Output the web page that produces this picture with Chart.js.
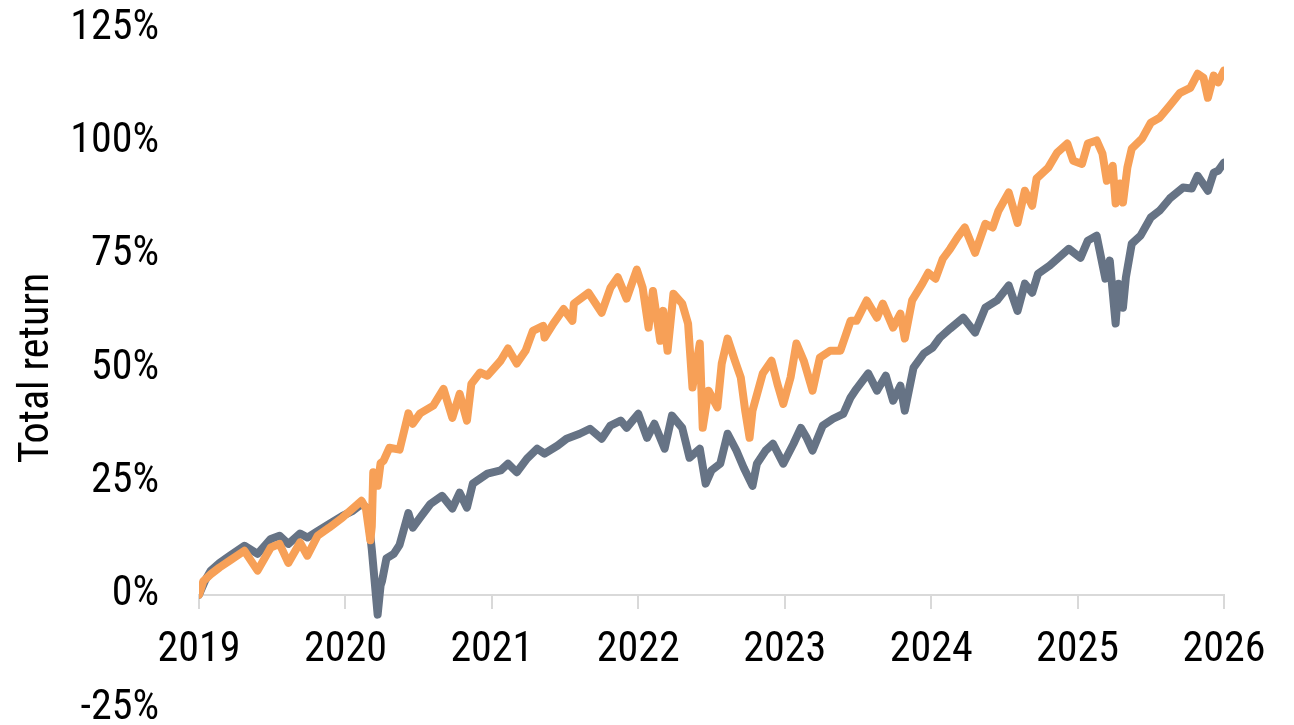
<!DOCTYPE html>
<html>
<head>
<meta charset="utf-8">
<script src="https://cdn.jsdelivr.net/npm/chart.js@4.4.1/dist/chart.umd.min.js"></script>
<style>
  html, body { margin: 0; padding: 0; background: #fff; }
  #wrap { width: 1294px; height: 725px; }
</style>
</head>
<body>
<div id="wrap"><canvas id="returnChart" width="1294" height="725"></canvas></div>
<script>
// tick labels
const yearLabels = ['2019', '2020', '2021', '2022', '2023', '2024', '2025', '2026'];
const pctLabels = ['-25%', '0%', '25%', '50%', '75%', '100%', '125%'];

// orange series (decimal year, total return in %)
const orangeYears = [2019.00, 2019.03, 2019.08, 2019.14, 2019.21, 2019.31, 2019.40, 2019.49, 2019.55, 2019.61,
  2019.69, 2019.74, 2019.81, 2019.89, 2019.98, 2020.05, 2020.11, 2020.14, 2020.17, 2020.18, 2020.19, 2020.20,
  2020.22, 2020.24, 2020.26, 2020.30, 2020.37, 2020.43, 2020.46, 2020.51, 2020.60, 2020.67, 2020.73, 2020.78,
  2020.83, 2020.86, 2020.92, 2020.97, 2021.06, 2021.11, 2021.17, 2021.23, 2021.28, 2021.35, 2021.36, 2021.42,
  2021.49, 2021.55, 2021.56, 2021.66, 2021.75, 2021.81, 2021.86, 2021.92, 2021.99, 2022.03, 2022.07, 2022.10,
  2022.15, 2022.17, 2022.20, 2022.24, 2022.30, 2022.34, 2022.37, 2022.42, 2022.44, 2022.48, 2022.54, 2022.57,
  2022.61, 2022.66, 2022.70, 2022.73, 2022.76, 2022.78, 2022.85, 2022.91, 2022.95, 2022.99, 2023.04, 2023.08,
  2023.13, 2023.19, 2023.24, 2023.31, 2023.38, 2023.45, 2023.49, 2023.56, 2023.63, 2023.67, 2023.74, 2023.79,
  2023.82, 2023.87, 2023.94, 2023.98, 2024.03, 2024.08, 2024.13, 2024.18, 2024.23, 2024.30, 2024.37, 2024.42,
  2024.46, 2024.53, 2024.59, 2024.64, 2024.69, 2024.72, 2024.80, 2024.86, 2024.93, 2024.97, 2025.03, 2025.07,
  2025.13, 2025.17, 2025.20, 2025.24, 2025.26, 2025.29, 2025.31, 2025.34, 2025.37, 2025.44, 2025.50, 2025.56,
  2025.63, 2025.70, 2025.77, 2025.82, 2025.86, 2025.89, 2025.93, 2025.96, 2026.00];
const orangeValues = [0, 3, 4.5, 6, 7.5, 9.7, 5.3, 10.4, 11.2, 7,
  11.5, 8.6, 13, 14.8, 17, 19, 20.7, 19, 12, 15, 27, 24,
  24, 29, 29.5, 32.4, 32, 40, 37.7, 40, 41.7, 45.4, 39, 44.3,
  38.4, 46.5, 49, 48.3, 51.6, 54.3, 51, 53.8, 58.2, 59.3, 56.7, 59.8,
  63, 60.4, 64.2, 66.6, 62.2, 67.7, 70, 65.3, 71.7, 67.7, 58.9, 67,
  56, 62.6, 53.8, 66.4, 64.2, 59.8, 45.7, 55.4, 36.8, 45, 41.3, 51,
  56.5, 51.6, 47.9, 40.6, 34.6, 40.6, 48.8, 51.6, 46.5, 42.1, 47.9, 55.4,
  51.6, 45, 52.3, 53.8, 53.8, 60.4, 60.4, 64.9, 61.1, 64.2, 58.9, 62,
  56.5, 64.9, 68.6, 71, 69.7, 74.1, 76.3, 78.8, 81, 75.4, 81.8, 81,
  84.7, 88.7, 82, 89.1, 85.8, 91.8, 94.2, 97.5, 99.5, 95.7, 95, 99.5,
  100.2, 97.3, 91.3, 94.6, 86.3, 90.7, 86.5, 94.2, 98.4, 100.6, 104.1, 105.2,
  107.9, 110.7, 111.8, 114.9, 114, 109.6, 114.5, 113, 115.6];

// gray series
const grayYears = [2019.00, 2019.04, 2019.08, 2019.14, 2019.21, 2019.31, 2019.40, 2019.49, 2019.55, 2019.61,
  2019.69, 2019.74, 2019.81, 2019.89, 2019.98, 2020.05, 2020.11, 2020.15, 2020.18, 2020.22, 2020.24, 2020.25,
  2020.28, 2020.33, 2020.37, 2020.43, 2020.46, 2020.51, 2020.58, 2020.66, 2020.73, 2020.78, 2020.83, 2020.87,
  2020.97, 2021.06, 2021.11, 2021.17, 2021.24, 2021.31, 2021.36, 2021.45, 2021.51, 2021.60, 2021.67, 2021.75,
  2021.81, 2021.88, 2021.92, 2022.00, 2022.06, 2022.11, 2022.18, 2022.23, 2022.30, 2022.35, 2022.42, 2022.46,
  2022.50, 2022.56, 2022.61, 2022.67, 2022.72, 2022.78, 2022.81, 2022.87, 2022.92, 2022.99, 2023.06, 2023.11,
  2023.15, 2023.19, 2023.26, 2023.33, 2023.40, 2023.45, 2023.49, 2023.57, 2023.63, 2023.69, 2023.74, 2023.79,
  2023.82, 2023.88, 2023.95, 2024.01, 2024.06, 2024.13, 2024.22, 2024.30, 2024.37, 2024.45, 2024.53, 2024.59,
  2024.64, 2024.69, 2024.73, 2024.81, 2024.87, 2024.94, 2025.02, 2025.07, 2025.13, 2025.19, 2025.22, 2025.26,
  2025.28, 2025.31, 2025.33, 2025.37, 2025.43, 2025.50, 2025.56, 2025.63, 2025.72, 2025.78, 2025.82, 2025.89,
  2025.93, 2025.96, 2026.00];
const grayValues = [0, 3, 5.3, 7, 8.6, 10.8, 9, 12.3, 13, 11.2,
  13.5, 12.6, 14, 15.6, 17.4, 18.5, 20, 19, 10, -4.4, 2, 3,
  8, 9, 11, 18, 14.8, 17, 20, 21.8, 19, 22.5, 19.2, 24.5,
  26.7, 27.4, 28.9, 27, 30, 32.2, 31.1, 32.9, 34.4, 35.5, 36.6, 34.4,
  37.3, 38.4, 36.8, 39.9, 34.6, 37.7, 32.2, 39.5, 36.8, 30.2, 32.2, 24.5,
  27.4, 28.9, 35.5, 31.8, 28, 24, 28.9, 31.8, 33.3, 28.9, 33.3, 36.8,
  34.6, 31.8, 37.3, 38.8, 39.9, 43.5, 45.4, 48.8, 45, 48.3, 42.8, 46.1,
  40.6, 50.1, 53.2, 54.5, 56.7, 58.7, 61.1, 57.8, 63.3, 64.9, 68.2, 62.6,
  68.6, 66.6, 70.8, 72.6, 74.3, 76.3, 74.3, 78.1, 79.2, 69.7, 73.7, 59.8,
  68.6, 63.3, 70, 77.4, 79.2, 83.2, 84.7, 87.4, 89.8, 89.6, 92.4, 89.1,
  93.1, 93.5, 95.3];

const FONT = "'Roboto Condensed', 'Liberation Sans Narrow', 'Arial Narrow', Roboto, sans-serif";
const toPoints = (xs, ys) => xs.map((x, i) => ({ x: x, y: ys[i] }));

new Chart(document.getElementById('returnChart').getContext('2d'), {
  type: 'line',
  data: {
    datasets: [
      {
        label: 'Orange',
        data: toPoints(orangeYears, orangeValues),
        borderColor: '#F7A057',
        borderWidth: 8,
        pointRadius: 0,
        tension: 0,
        borderJoinStyle: 'round',
        borderCapStyle: 'round'
      },
      {
        label: 'Gray',
        data: toPoints(grayYears, grayValues),
        borderColor: '#667385',
        borderWidth: 8,
        pointRadius: 0,
        tension: 0,
        borderJoinStyle: 'round',
        borderCapStyle: 'round'
      }
    ]
  },
  options: {
    responsive: false,
    animation: false,
    devicePixelRatio: 1,
    layout: { padding: { top: 28, bottom: 17, left: 0, right: 70 } },
    plugins: {
      legend: { display: false },
      tooltip: { enabled: false }
    },
    scales: {
      x: {
        type: 'linear',
        position: { y: 0 },
        min: 2019,
        max: 2026,
        ticks: {
          stepSize: 1,
          padding: 18,
          color: '#000',
          font: { family: FONT, size: 42 },
          maxRotation: 0,
          callback: (v, i) => yearLabels[i]
        },
        grid: {
          drawOnChartArea: false,
          drawTicks: true,
          tickLength: 13,
          color: '#d9d9d9',
          lineWidth: 2
        },
        border: { display: true, color: '#d9d9d9', width: 2 }
      },
      y: {
        min: -25,
        max: 125,
        ticks: {
          stepSize: 25,
          padding: 40,
          color: '#000',
          font: { family: FONT, size: 42 },
          callback: (v, i) => pctLabels[i]
        },
        grid: { display: false, drawTicks: false },
        border: { display: false },
        title: {
          display: true,
          text: 'Total return',
          color: '#000',
          font: { family: FONT, size: 42 },
          padding: { top: 12, bottom: 0 }
        },
        afterFit: (scale) => {
          scale.paddingTop = 0;
          scale.paddingBottom = 0;
          scale.width = 199;
        }
      }
    }
  }
});
</script>
</body>
</html>
